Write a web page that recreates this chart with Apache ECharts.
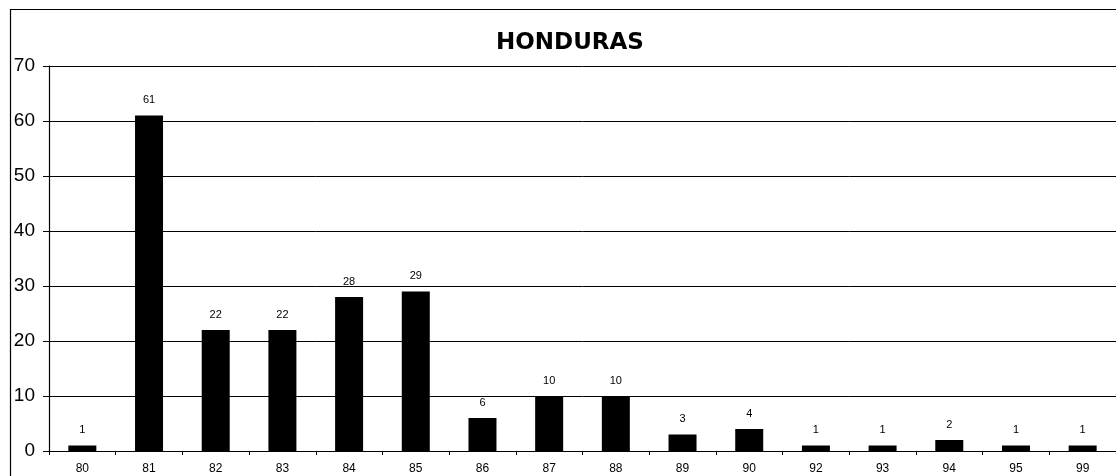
<!DOCTYPE html>
<html>
<head>
<meta charset="utf-8">
<script src="https://cdn.jsdelivr.net/npm/echarts@6/dist/echarts.min.js"></script>
<style>
html,body{margin:0;padding:0;background:#fff;}
#c{width:1116px;height:476px;}
</style>
</head>
<body>
<div id="c"></div>
<script>
const titleText = "HONDURAS";
const categories = ["80","81","82","83","84","85","86","87","88","89","90","92","93","94","95","99"];
const values = [1,61,22,22,28,29,6,10,10,3,4,1,1,2,1,1];
const yTicks = {min:0, max:70, interval:10};

const chart = echarts.init(document.getElementById('c'), null, {renderer:'canvas'});
chart.setOption({
  animation:false,
  backgroundColor:'#fff',
  title:{
    text:titleText,
    left:491, top:27,
    textStyle:{fontFamily:'DejaVu Sans', fontWeight:'bold', fontSize:23, color:'#000'}
  },
  graphic:[{
    type:'rect', left:8, top:7,
    shape:{width:1200, height:600},
    style:{fill:'none', stroke:'#000', lineWidth:1.2},
    silent:true
  }],
  grid:{left:49, top:66, width:1079, height:385, containLabel:false},
  xAxis:{
    type:'category', data:categories,
    axisLine:{lineStyle:{color:'#000', width:1.2}},
    axisTick:{show:true, alignWithLabel:false, length:4, inside:false, lineStyle:{color:'#000'}},
    axisLabel:{fontFamily:'Liberation Sans', fontSize:12, color:'#000', margin:12, interval:0},
    splitLine:{show:false}
  },
  yAxis:{
    type:'value', min:yTicks.min, max:yTicks.max, interval:yTicks.interval,
    axisLine:{show:true, lineStyle:{color:'#000', width:1.2}},
    axisTick:{show:true, length:6, lineStyle:{color:'#000'}},
    axisLabel:{fontFamily:'Liberation Sans', fontSize:19, color:'#000', margin:14},
    splitLine:{show:true, lineStyle:{color:'#000', width:1}}
  },
  series:[{
    type:'bar', data:values, barWidth:28,
    itemStyle:{color:'#000'},
    label:{show:true, position:'top', distance:10, fontFamily:'Liberation Sans', fontSize:11, color:'#000'}
  }]
});
</script>
</body>
</html>
